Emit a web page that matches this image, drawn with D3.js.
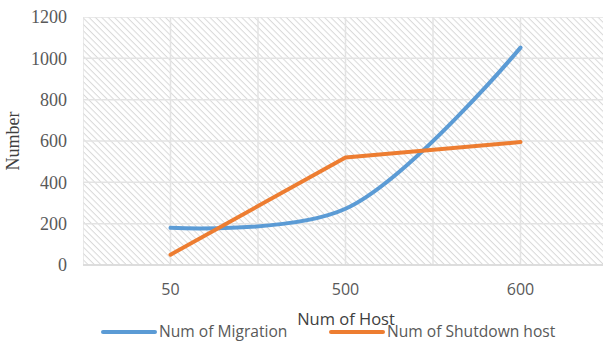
<!DOCTYPE html>
<html>
<head>
<meta charset="utf-8">
<script src="https://cdn.jsdelivr.net/npm/d3@7"></script>
<style>
  body { margin: 0; background: #fff; }
  svg { display: block; }
</style>
</head>
<body>
<div id="chart"></div>
<script>
// data
const hosts = ["50", "500", "600"];
const migration = [180, 272, 1052];
const shutdown = [50, 520, 595];
const yTicks = [0, 200, 400, 600, 800, 1000, 1200];

const W = 603, H = 344;
const margin = {top: 17, right: -5, bottom: 79, left: 83};
const width = W - margin.left - margin.right;
const height = H - margin.top - margin.bottom;
const colors = {migration: "#5B9BD5", shutdown: "#ED7D31"};
const serif = "'Liberation Serif', 'Times New Roman', serif";
const sans = "'Open Sans', sans-serif";

const svg = d3.select("#chart").append("svg")
  .attr("width", W).attr("height", H);

// hatch pattern for the plot area (lines running top-left to bottom-right)
const defs = svg.append("defs");
const pat = defs.append("pattern")
  .attr("id", "hatch")
  .attr("patternUnits", "userSpaceOnUse")
  .attr("width", 4.5).attr("height", 4.5)
  .attr("patternTransform", "rotate(45)");
pat.append("rect").attr("width", 4.5).attr("height", 4.5).attr("fill", "#fff");
pat.append("line").attr("x1", 0).attr("y1", 0).attr("x2", 4.5).attr("y2", 0)
  .attr("stroke", "#d9d9d9").attr("stroke-width", 2);

defs.append("clipPath").attr("id", "clip")
  .append("rect").attr("width", width).attr("height", height + 2);

const g = svg.append("g").attr("transform", `translate(${margin.left},${margin.top})`);

const x = d3.scaleBand().domain(hosts).range([0, width]);
const y = d3.scaleLinear().domain([0, 1200]).range([height, 0]);

g.append("rect").attr("width", width).attr("height", height).attr("fill", "url(#hatch)");

// grid lines
const grid = g.append("g").attr("clip-path", "url(#clip)");
grid.selectAll(".hg").data(yTicks).enter().append("line")
  .attr("x1", 0).attr("x2", width)
  .attr("y1", d => y(d)).attr("y2", d => y(d))
  .attr("stroke", "#e3e3e3").attr("stroke-width", 1.5);
const vPos = [];
hosts.forEach(h => { vPos.push(x(h)); vPos.push(x(h) + x.bandwidth() / 2); });
grid.selectAll(".vg").data(vPos).enter().append("line")
  .attr("x1", d => d).attr("x2", d => d)
  .attr("y1", 0).attr("y2", height)
  .attr("stroke", "#e3e3e3").attr("stroke-width", 1.5);
// base axis line
g.append("line").attr("x1", 0).attr("x2", width).attr("y1", height).attr("y2", height)
  .attr("stroke", "#d9d9d9").attr("stroke-width", 1.5);

// y axis labels
g.selectAll(".ytick").data(yTicks).enter().append("text")
  .attr("x", -16).attr("y", d => y(d)).attr("dy", "0.35em")
  .attr("text-anchor", "end")
  .style("font-family", serif).style("font-size", "18px")
  .attr("fill", "#595959").text(d => d);

// x axis labels
g.selectAll(".xtick").data(hosts).enter().append("text")
  .attr("x", d => x(d) + x.bandwidth() / 2).attr("y", height + 30)
  .attr("text-anchor", "middle")
  .style("font-family", sans).style("font-size", "16px")
  .attr("fill", "#595959").text(d => d);

// axis titles
svg.append("text")
  .attr("transform", `translate(19,${margin.top + height / 2}) rotate(-90)`)
  .attr("text-anchor", "middle")
  .style("font-family", serif).style("font-size", "18px")
  .attr("fill", "#404040").text("Number");

svg.append("text")
  .attr("x", 346).attr("y", 325).attr("text-anchor", "middle")
  .style("font-family", sans).style("font-size", "16.5px")
  .attr("fill", "#404040").text("Num of Host");

// lines
const cx = (d, i) => x(hosts[i]) + x.bandwidth() / 2;
const lineSmooth = d3.line().x(cx).y(d => y(d)).curve(d3.curveCatmullRom.alpha(0.5));
const lineStraight = d3.line().x(cx).y(d => y(d));

g.append("path").datum(migration)
  .attr("d", lineSmooth).attr("fill", "none")
  .attr("stroke", colors.migration).attr("stroke-width", 4).attr("stroke-linecap", "round");
g.append("path").datum(shutdown)
  .attr("d", lineStraight).attr("fill", "none")
  .attr("stroke", colors.shutdown).attr("stroke-width", 4).attr("stroke-linecap", "round")
  .attr("stroke-linejoin", "round");

// legend
const legend = [
  {name: "Num of Migration", color: colors.migration, x: 103},
  {name: "Num of Shutdown host", color: colors.shutdown, x: 331}
];
const lg = svg.selectAll(".legend").data(legend).enter().append("g")
  .attr("transform", d => `translate(${d.x},332)`);
lg.append("line").attr("x1", 0).attr("x2", 52).attr("y1", 0).attr("y2", 0)
  .attr("stroke", d => d.color).attr("stroke-width", 4).attr("stroke-linecap", "round");
lg.append("text").attr("x", 56).attr("y", 0).attr("dy", "0.35em")
  .style("font-family", sans).style("font-size", "15.6px")
  .attr("fill", "#595959").text(d => d.name);
</script>
</body>
</html>
